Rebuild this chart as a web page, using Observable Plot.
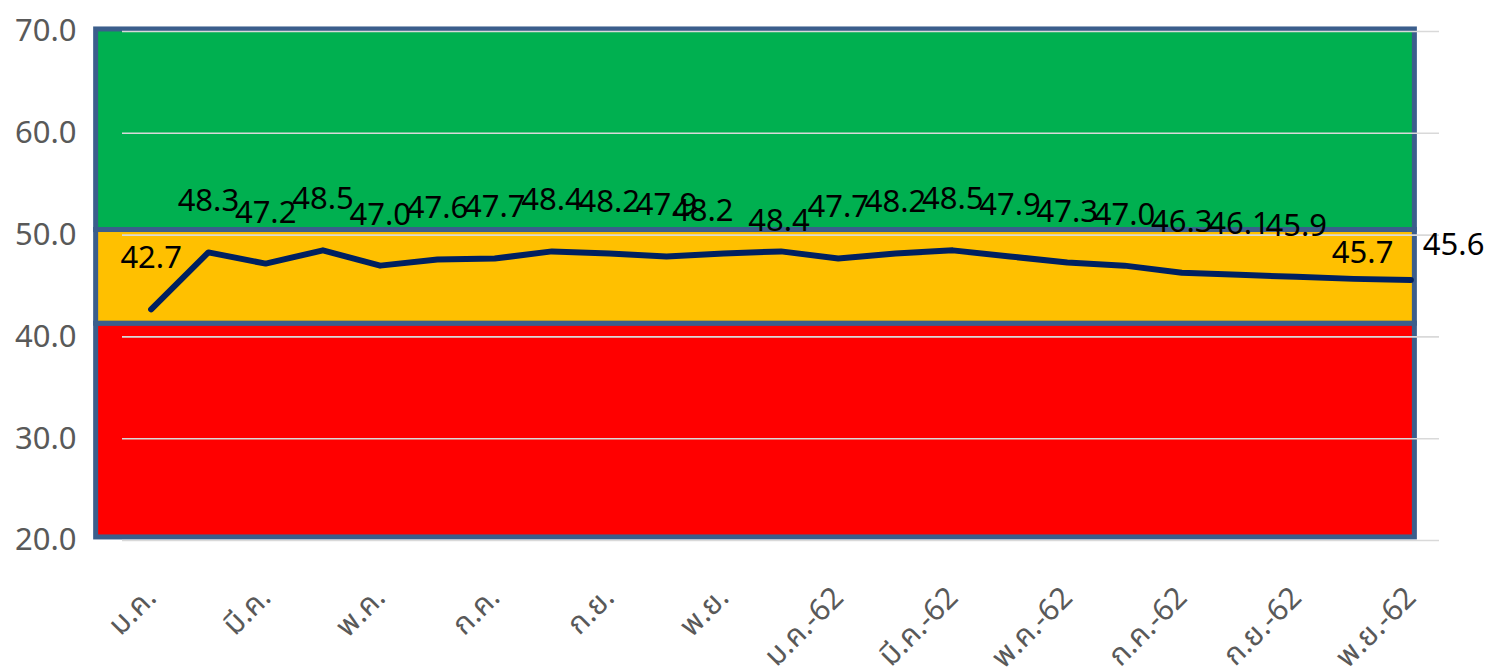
<!DOCTYPE html>
<html>
<head>
<meta charset="utf-8">
<script src="https://cdn.jsdelivr.net/npm/d3@7"></script>
<script src="https://cdn.jsdelivr.net/npm/@observablehq/plot@0.6"></script>
<style>
  html, body { margin: 0; padding: 0; background: #fff; }
  #chart svg { display: block; }
</style>
</head>
<body>
<div id="chart"></div>
<script>
// Monthly values (ม.ค. 61 .. พ.ย. 62)
const values = [42.7, 48.3, 47.2, 48.5, 47.0, 47.6, 47.7, 48.4, 48.2, 47.9, 48.2, 48.4,
                47.7, 48.2, 48.5, 47.9, 47.3, 47.0, 46.3, 46.1, 45.9, 45.7, 45.6];
// Tick labels (every second month)
const tickLabels = ["ม.ค.", "มี.ค.", "พ.ค.", "ก.ค.", "ก.ย.", "พ.ย.",
                    "ม.ค.-62", "มี.ค.-62", "พ.ค.-62", "ก.ค.-62", "ก.ย.-62", "พ.ย.-62"];
const tickIndex = tickLabels.map((_, i) => i * 2);
// Background zones
const bandLow = [20.3, 41.3, 50.5];
const bandHigh = [41.3, 50.5, 70.2];
const bandColor = ["#FF0000", "#FFC000", "#00B050"];
const yTicks = [20, 30, 40, 50, 60, 70];

const data = values.map((v, i) => ({i, v}));
const bands = bandLow.map((lo, k) => ({lo, hi: bandHigh[k], color: bandColor[k]}));
const ticks = tickIndex.map((i, k) => ({i, label: tickLabels[k]}));

const font = "'Noto Sans', 'Noto Sans Thai', Tahoma, Loma, Garuda, sans-serif";
const special = {10: [-21, -42, "middle"], 11: [-2, -30, "middle"], 21: [9, -26, "middle"], 22: [12, -35, "start"]};
const normal = data.filter(d => !(d.i in special));

const marks = [
  Plot.rect(bands, {x1: () => -0.96, x2: () => 22.07, y1: "lo", y2: "hi",
    fill: "color", stroke: "#3B5E8C", strokeWidth: 5, clip: false}),
  Plot.gridY(yTicks, {stroke: "#D9D9D9", strokeOpacity: 1, strokeWidth: 1.6}),
  Plot.axisY(yTicks, {tickSize: 0, tickPadding: 46, tickFormat: d => d.toFixed(1),
    fontSize: 31, fill: "#595959", label: null}),
  Plot.line(data, {x: "i", y: "v", stroke: "#002060", strokeWidth: 6,
    strokeLinecap: "round", strokeLinejoin: "round"}),
  Plot.text(normal, {x: "i", y: "v", text: d => d.v.toFixed(1), dy: -51,
    lineAnchor: "middle", fontSize: 31, fill: "#000"}),
  ...Object.entries(special).map(([k, [dx, dy, anchor]]) =>
    Plot.text(data.filter(d => d.i === +k), {x: "i", y: "v", text: d => d.v.toFixed(1),
      dx, dy, textAnchor: anchor, lineAnchor: "middle", fontSize: 31, fill: "#000"})),
  Plot.text(ticks, {x: "i", text: "label", frameAnchor: "bottom", dy: 52,
    rotate: -45, textAnchor: "end", lineAnchor: "middle", fontSize: 30, fill: "#595959"})
];

const chart = Plot.plot({
  width: 1488,
  height: 669,
  marginTop: 31,
  marginBottom: 129,
  marginLeft: 122,
  marginRight: 49,
  style: {fontFamily: font, background: "#fff", overflow: "visible"},
  x: {type: "linear", domain: [-0.5, 22.5], axis: null},
  y: {domain: [20, 70], axis: null},
  color: {type: "identity"},
  marks
});
document.getElementById("chart").appendChild(chart);
</script>
</body>
</html>
